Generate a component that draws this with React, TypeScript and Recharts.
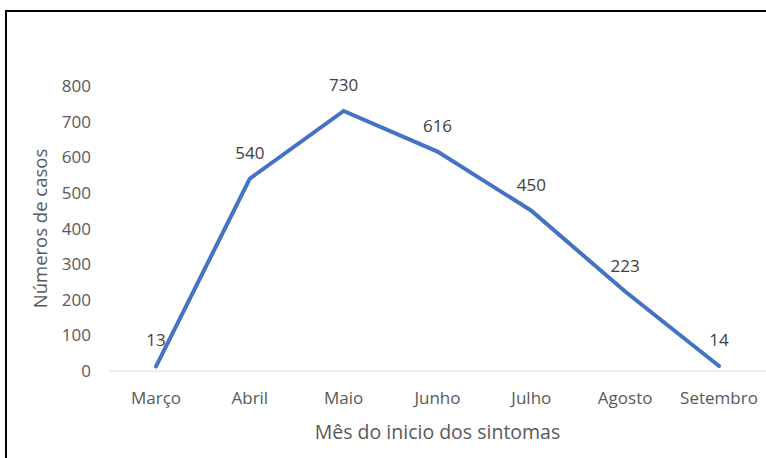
import { LineChart, Line, XAxis, YAxis, LabelList } from 'recharts';

const months = ['Março', 'Abril', 'Maio', 'Junho', 'Julho', 'Agosto', 'Setembro'];
const cases = [13, 540, 730, 616, 450, 223, 14];
const yTicks = [0, 100, 200, 300, 400, 500, 600, 700, 800];

const chartData = months.map((m, i) => ({ month: m, casos: cases[i] }));

const font = '"Open Sans", sans-serif';

export default function App() {
    return (
        <div style={{ position: 'absolute', left: 0, top: 0, width: 766, height: 458, background: '#fff', overflow: 'hidden' }}>
            <div
                style={{
                    position: 'absolute',
                    left: 5,
                    top: 10,
                    width: 800,
                    height: 500,
                    borderTop: '2px solid #000',
                    borderLeft: '2px solid #000',
                }}
            />
            <LineChart
                width={766}
                height={458}
                data={chartData}
                margin={{ top: 86, right: 0, bottom: 12, left: 20 }}
                style={{ position: 'absolute', left: 0, top: 0, fontFamily: font }}
            >
                <XAxis
                    dataKey="month"
                    padding={{ left: 47, right: 47 }}
                    height={75}
                    tickLine={false}
                    tickSize={0}
                    tickMargin={21}
                    axisLine={{ stroke: '#d9d9d9', strokeWidth: 1 }}
                    tick={{ fill: '#595959', fontSize: 17, fontFamily: font }}
                    interval={0}
                    label={{
                        value: 'Mês do inicio dos sintomas',
                        position: 'insideBottom',
                        offset: 7,
                        fill: '#595959',
                        fontSize: 19.5,
                        fontFamily: font,
                    }}
                />
                <YAxis
                    width={89}
                    domain={[0, 800]}
                    ticks={yTicks}
                    tickLine={false}
                    axisLine={false}
                    tickSize={0}
                    tickMargin={18}
                    tick={{ fill: '#595959', fontSize: 17, fontFamily: font }}
                    label={{
                        value: 'Números de casos',
                        angle: -90,
                        position: 'insideLeft',
                        offset: 20,
                        fill: '#595959',
                        fontSize: 18.5,
                        fontFamily: font,
                        style: { textAnchor: 'middle' },
                    }}
                />
                <Line
                    type="linear"
                    dataKey="casos"
                    stroke="#4472c4"
                    strokeWidth={4}
                    dot={false}
                    activeDot={false}
                    strokeLinecap="round"
                    isAnimationActive={false}
                >
                    <LabelList dataKey="casos" position="top" offset={20} fill="#404040" fontSize={17} fontFamily={font} />
                </Line>
            </LineChart>
        </div>
    );
}
